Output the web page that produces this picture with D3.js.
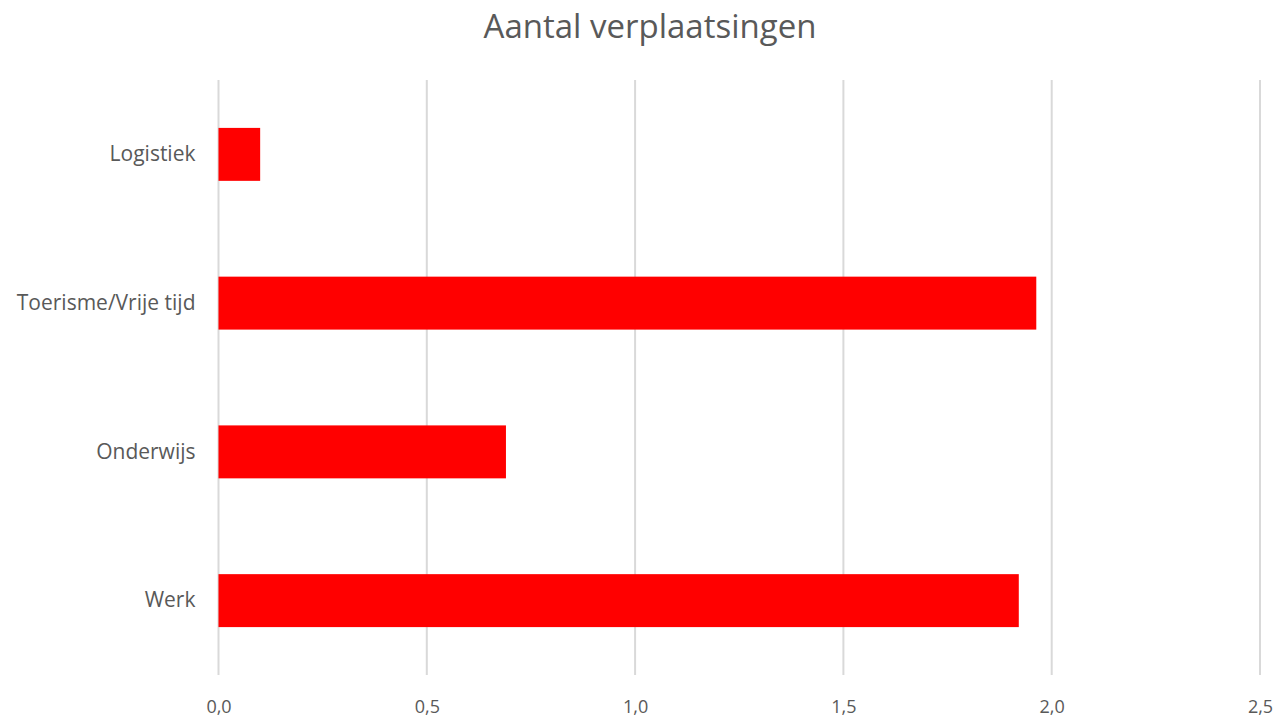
<!DOCTYPE html>
<html>
<head>
<meta charset="utf-8">
<script src="https://cdn.jsdelivr.net/npm/d3@7"></script>
<style>
  body { margin: 0; background: #fff; }
  text { font-family: "Open Sans", "Noto Sans", sans-serif; fill: #595959; }
</style>
</head>
<body>
<svg width="1282" height="721"></svg>
<script>
const categories = ["Logistiek", "Toerisme/Vrije tijd", "Onderwijs", "Werk"]
const values = [0.1, 1.963, 0.69, 1.921]
const xTicks = [0, 0.5, 1.0, 1.5, 2.0, 2.5]
const title = "Aantal verplaatsingen"

const svg = d3.select("svg"),
    width = +svg.attr("width"),
    height = +svg.attr("height");

const margin = { top: 80, right: 22, bottom: 46, left: 218.5 };

const x = d3.scaleLinear()
    .domain([0, 2.5])
    .range([margin.left, width - margin.right]);

const y = d3.scaleBand()
    .domain(categories)
    .range([margin.top, height - margin.bottom])
    .paddingInner(0.644)
    .paddingOuter(0.322);

// title
svg.append("text")
    .attr("x", 650)
    .attr("y", 38)
    .attr("text-anchor", "middle")
    .style("font-size", "33px")
    .text(title);

// vertical gridlines
svg.append("g")
    .selectAll("line")
    .data(xTicks)
    .enter().append("line")
    .attr("x1", (d) => x(d))
    .attr("x2", (d) => x(d))
    .attr("y1", margin.top)
    .attr("y2", height - margin.bottom)
    .attr("stroke", "#d9d9d9")
    .attr("stroke-width", 2);

// x axis labels
const xAxis = d3.axisBottom(x)
    .tickValues(xTicks)
    .tickSize(0)
    .tickPadding(0)
    .tickFormat((d) => d3.format(".1f")(d).replace(".", ","));

svg.append("g")
    .attr("transform", "translate(0," + 700 + ")")
    .call(xAxis)
    .call((g) => g.select(".domain").remove())
    .selectAll("text")
    .style("font-size", "18px")
    .attr("fill", "#595959");

// bars
svg.append("g")
    .selectAll("rect")
    .data(categories)
    .enter().append("rect")
    .attr("x", x(0))
    .attr("y", (d) => y(d))
    .attr("width", (d, i) => x(values[i]) - x(0))
    .attr("height", y.bandwidth())
    .attr("fill", "#ff0000");

// category labels
const yAxis = d3.axisLeft(y).tickSize(0).tickPadding(23);
svg.append("g")
    .attr("transform", "translate(" + margin.left + ",0)")
    .call(yAxis)
    .call((g) => g.select(".domain").remove())
    .selectAll("text")
    .style("font-size", "21px")
    .attr("fill", "#595959");
</script>
</body>
</html>
